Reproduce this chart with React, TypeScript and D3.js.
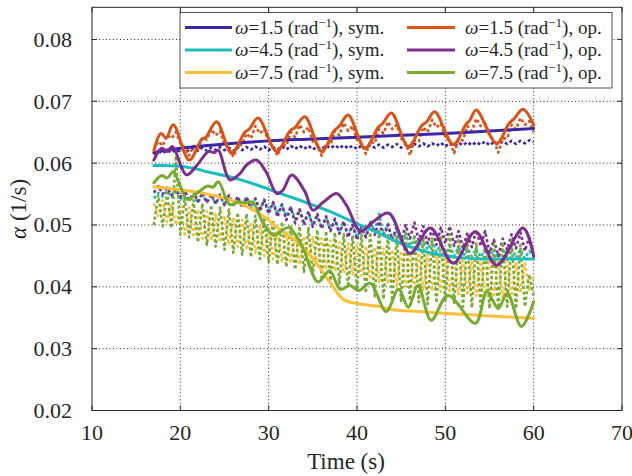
import React from 'react';
import * as d3 from 'd3';

// ---------- data ----------
const X_TICKS = [10, 20, 30, 40, 50, 60, 70];
const Y_TICKS = [0.02, 0.03, 0.04, 0.05, 0.06, 0.07, 0.08];

// sampling times of the simulated (dotted) series
const T_DOT = d3.range(17, 60.001, 0.5);

// ω=1.5 sym (solid)
const SYM15_T = [17, 18, 20, 22, 25, 30, 35, 40, 45, 50, 55, 60];
const SYM15_V = [0.0617, 0.062, 0.0624, 0.0627, 0.0631, 0.0636, 0.0639, 0.0642, 0.0645, 0.0648, 0.0652, 0.0656];

// ω=4.5 sym (solid)
const SYM45_T = [17, 20, 22, 23, 25.6, 28.6, 31.3, 33.9, 36.9, 40, 42.6, 45, 48, 51, 54, 57, 60];
const SYM45_V = [0.0596, 0.0595, 0.059, 0.0586, 0.0578, 0.0565, 0.0551, 0.0538, 0.0522, 0.0502, 0.0486, 0.047, 0.0456, 0.0448, 0.0445, 0.0445, 0.0445];

// ω=7.5 sym (solid)
const SYM75_T = [17, 20, 23.4, 25.6, 27.5, 29.4, 31.3, 33.2, 35.1, 37, 38.5, 40, 42.6, 44.1, 47, 50.1, 55, 60];
const SYM75_V = [0.0562, 0.0557, 0.0549, 0.0541, 0.053, 0.0514, 0.0492, 0.0473, 0.0444, 0.0406, 0.0379, 0.0373, 0.0368, 0.0363, 0.036, 0.0357, 0.0353, 0.0349];

// ω=1.5 op (solid)
const OP15_T = [17, 17.8, 18.4, 19.2, 21, 22.4, 22.9, 24.1, 25.8, 27.3, 27.8, 28.8, 30.9, 32.4, 33, 34.1, 36, 37.4, 38, 39, 40.9, 42.4, 42.9, 43.9, 45.8, 47.3, 47.9, 48.8, 50.9, 52.3, 52.8, 53.5, 55.8, 57.2, 57.8, 58.8, 60];
const OP15_V = [0.062, 0.0648, 0.0641, 0.0662, 0.0605, 0.0638, 0.0642, 0.0667, 0.0616, 0.065, 0.0655, 0.0673, 0.0619, 0.0652, 0.0658, 0.0675, 0.0619, 0.0652, 0.066, 0.0678, 0.0624, 0.0658, 0.0664, 0.0681, 0.0627, 0.066, 0.0667, 0.0683, 0.063, 0.0662, 0.067, 0.0686, 0.0632, 0.0664, 0.0672, 0.0687, 0.0662];

// ω=4.5 op (solid)
const OP45_T = [17, 17.9, 18.5, 19.1, 20.7, 21.9, 23.2, 23.8, 24.3, 25.6, 26.8, 27.5, 28.6, 29.7, 30.9, 31.6, 32.6, 34.1, 35, 36.2, 37.7, 38.8, 40.4, 41.8, 43.6, 46, 48.3, 50.9, 53.4, 55.8, 58.8, 60];
const OP45_V = [0.0605, 0.0624, 0.0619, 0.0627, 0.0581, 0.0597, 0.0619, 0.0617, 0.0621, 0.0573, 0.0584, 0.0597, 0.0605, 0.0586, 0.0551, 0.0556, 0.0581, 0.0554, 0.0524, 0.0537, 0.0551, 0.0532, 0.049, 0.0505, 0.0519, 0.0454, 0.0495, 0.0438, 0.0489, 0.0435, 0.0495, 0.0449];

// ω=7.5 op (solid)
const OP75_T = [17, 17.9, 18.5, 19.2, 19.8, 20.8, 22, 23.1, 23.7, 24.3, 25.6, 26.6, 27.5, 28.2, 29.3, 30.6, 31.4, 32.3, 33.8, 35.6, 36.9, 38.1, 39.2, 40.2, 41.5, 43.3, 44.7, 45.8, 46.9, 48.4, 50.3, 53.4, 54.7, 56, 57, 58.6, 60];
const OP75_V = [0.0568, 0.058, 0.0576, 0.0586, 0.057, 0.0541, 0.0553, 0.0563, 0.0561, 0.057, 0.0533, 0.0537, 0.0536, 0.0537, 0.0505, 0.0483, 0.049, 0.0496, 0.0465, 0.0408, 0.0426, 0.0396, 0.0402, 0.0394, 0.0406, 0.036, 0.0396, 0.0367, 0.0402, 0.0346, 0.0386, 0.0341, 0.0392, 0.0365, 0.039, 0.0336, 0.0376];

// dotted (simulated) series, sampled at T_DOT
const SYM15_DOT = [0.0614, 0.0619, 0.0616, 0.0621, 0.0617, 0.0622, 0.0618, 0.0623, 0.0619, 0.0624, 0.062, 0.0625, 0.062, 0.0625, 0.0621, 0.0626, 0.0621, 0.0625, 0.062, 0.0626, 0.0621, 0.0626, 0.0622, 0.0627, 0.0622, 0.0627, 0.0621, 0.0626, 0.0622, 0.0627, 0.0622, 0.0628, 0.0623, 0.0628, 0.0623, 0.0628, 0.0622, 0.0627, 0.0623, 0.0628, 0.0624, 0.0629, 0.0624, 0.0629, 0.0624, 0.0628, 0.0623, 0.0628, 0.0624, 0.0629, 0.0625, 0.063, 0.0625, 0.063, 0.0626, 0.0631, 0.0625, 0.063, 0.0626, 0.0631, 0.0627, 0.0632, 0.0627, 0.0632, 0.0628, 0.0633, 0.0627, 0.0632, 0.0628, 0.0633, 0.0629, 0.0634, 0.0629, 0.0634, 0.063, 0.0635, 0.0629, 0.0634, 0.063, 0.0635, 0.0631, 0.0636, 0.0631, 0.0636, 0.0632, 0.0637, 0.0634];
const OP15_DOT = [0.0622, 0.0635, 0.0628, 0.0645, 0.064, 0.065, 0.0632, 0.0625, 0.0612, 0.0628, 0.0622, 0.0642, 0.0638, 0.0655, 0.0645, 0.0652, 0.063, 0.0625, 0.061, 0.0628, 0.063, 0.0648, 0.064, 0.066, 0.0648, 0.0655, 0.0632, 0.0628, 0.0612, 0.063, 0.0628, 0.065, 0.0642, 0.0662, 0.065, 0.0658, 0.0635, 0.063, 0.0612, 0.0632, 0.063, 0.0652, 0.0645, 0.0665, 0.0652, 0.066, 0.0638, 0.0632, 0.0615, 0.0635, 0.0632, 0.0655, 0.0648, 0.0667, 0.0655, 0.0662, 0.064, 0.0632, 0.0613, 0.0636, 0.0635, 0.0658, 0.065, 0.067, 0.0658, 0.0664, 0.0642, 0.0635, 0.0616, 0.0638, 0.0637, 0.066, 0.0652, 0.0672, 0.066, 0.0665, 0.0645, 0.0636, 0.0617, 0.064, 0.064, 0.0662, 0.0655, 0.0673, 0.0662, 0.0668, 0.065];
const SYM45_DOT = [0.0543, 0.0552, 0.0546, 0.0555, 0.0545, 0.0553, 0.054, 0.055, 0.0538, 0.0548, 0.0536, 0.0549, 0.0537, 0.0547, 0.0535, 0.0546, 0.0533, 0.0545, 0.0532, 0.0544, 0.053, 0.0545, 0.0528, 0.0542, 0.0525, 0.054, 0.0522, 0.0537, 0.0518, 0.0533, 0.0514, 0.053, 0.051, 0.0525, 0.0505, 0.052, 0.05, 0.0515, 0.0495, 0.0512, 0.0492, 0.0508, 0.0488, 0.0505, 0.0484, 0.05, 0.048, 0.0496, 0.0482, 0.0505, 0.049, 0.0518, 0.0485, 0.0502, 0.0475, 0.049, 0.047, 0.0485, 0.0466, 0.048, 0.0463, 0.0478, 0.046, 0.0474, 0.0456, 0.047, 0.0452, 0.0466, 0.045, 0.0464, 0.0449, 0.0463, 0.0449, 0.0462, 0.0448, 0.0462, 0.0448, 0.0461, 0.0447, 0.0462, 0.0448, 0.0462, 0.0447, 0.046, 0.0446, 0.0458, 0.045];
const OP45_DOT = [0.0552, 0.0563, 0.055, 0.056, 0.0548, 0.0558, 0.0545, 0.0556, 0.054, 0.0553, 0.0538, 0.0552, 0.0536, 0.055, 0.0534, 0.0549, 0.0532, 0.0548, 0.053, 0.0546, 0.0528, 0.0545, 0.0526, 0.0543, 0.0522, 0.0541, 0.0518, 0.0537, 0.0513, 0.0533, 0.0508, 0.0528, 0.0503, 0.0525, 0.05, 0.0522, 0.0497, 0.0518, 0.0494, 0.0514, 0.049, 0.051, 0.0486, 0.0506, 0.048, 0.05, 0.0476, 0.0497, 0.048, 0.0502, 0.0484, 0.0506, 0.048, 0.05, 0.0476, 0.0498, 0.0474, 0.05, 0.0478, 0.0504, 0.0475, 0.0498, 0.047, 0.0494, 0.0468, 0.0496, 0.047, 0.0498, 0.0466, 0.049, 0.0462, 0.0488, 0.0464, 0.0492, 0.0466, 0.049, 0.0455, 0.0476, 0.045, 0.0478, 0.046, 0.0485, 0.0462, 0.0488, 0.0458, 0.048, 0.0455];
const SYM75_DOT = [0.0535, 0.0515, 0.054, 0.0505, 0.0535, 0.05, 0.053, 0.0485, 0.0528, 0.048, 0.0525, 0.0478, 0.0522, 0.0475, 0.0518, 0.0472, 0.0515, 0.0468, 0.0512, 0.0465, 0.0508, 0.046, 0.0505, 0.0455, 0.05, 0.045, 0.0496, 0.0445, 0.0492, 0.044, 0.0488, 0.0438, 0.0485, 0.0436, 0.0482, 0.0434, 0.048, 0.0432, 0.0478, 0.0428, 0.0475, 0.0425, 0.0472, 0.0422, 0.047, 0.042, 0.0468, 0.0418, 0.0466, 0.0412, 0.0464, 0.0408, 0.0462, 0.0405, 0.046, 0.0402, 0.0458, 0.04, 0.0456, 0.0398, 0.0455, 0.0395, 0.0453, 0.0393, 0.0452, 0.0392, 0.045, 0.039, 0.0448, 0.0388, 0.0447, 0.0386, 0.0446, 0.0385, 0.0445, 0.0384, 0.0444, 0.0383, 0.0443, 0.0382, 0.0442, 0.0385, 0.044, 0.039, 0.0438, 0.0395, 0.0417];
const OP75_DOT = [0.05, 0.0548, 0.0498, 0.0552, 0.0495, 0.0612, 0.0485, 0.0545, 0.048, 0.054, 0.0472, 0.0535, 0.0468, 0.0532, 0.0465, 0.0528, 0.046, 0.0525, 0.0455, 0.052, 0.0452, 0.0518, 0.0448, 0.0515, 0.0445, 0.0512, 0.044, 0.0508, 0.0436, 0.0505, 0.0432, 0.05, 0.0428, 0.0498, 0.0424, 0.0495, 0.042, 0.0492, 0.0415, 0.049, 0.041, 0.0488, 0.0405, 0.0485, 0.04, 0.0483, 0.0395, 0.0485, 0.039, 0.0488, 0.0385, 0.049, 0.038, 0.0486, 0.0378, 0.0482, 0.0375, 0.0488, 0.0378, 0.0485, 0.0375, 0.048, 0.0372, 0.0478, 0.0374, 0.0482, 0.0376, 0.0485, 0.0372, 0.0478, 0.0368, 0.0475, 0.0366, 0.0472, 0.0368, 0.047, 0.0365, 0.0468, 0.0366, 0.0472, 0.0368, 0.0475, 0.0365, 0.0468, 0.0368, 0.042, 0.0385];

const LEGEND_LABELS = ['ω=1.5', 'ω=4.5', 'ω=7.5'];
const C_SYM = ['#3e26a8', '#1dbdbd', '#fdbf38'];
const C_OP = ['#d95319', '#7e2f8e', '#77ac30'];

const FONT = '"Liberation Serif", "Times New Roman", serif';

export default function App() {
  const W = 632, H = 476;
  const L = 92, R = 622, T = 7.3, B = 410.5;
  const x = d3.scaleLinear().domain([10, 70]).range([L, R]);
  const y = d3.scaleLinear().domain([0.02, 0.0852]).range([B, T]);

  const smooth = d3.line<[number, number]>().x(d => x(d[0])).y(d => y(d[1])).curve(d3.curveCatmullRom.alpha(0.5));
  const straight = d3.line<[number, number]>().x(d => x(d[0])).y(d => y(d[1]));
  const zip = (ts: number[], vs: number[]) => ts.map((t, i) => [t, vs[i]] as [number, number]);

  const dotted = [
    { v: SYM15_DOT, c: C_SYM[0] },
    { v: OP15_DOT, c: C_OP[0] },
    { v: SYM45_DOT, c: C_SYM[1] },
    { v: OP45_DOT, c: C_OP[1] },
    { v: SYM75_DOT, c: C_SYM[2] },
    { v: OP75_DOT, c: C_OP[2] },
  ];
  const solid = [
    { t: SYM15_T, v: SYM15_V, c: C_SYM[0] },
    { t: SYM45_T, v: SYM45_V, c: C_SYM[1] },
    { t: SYM75_T, v: SYM75_V, c: C_SYM[2] },
    { t: OP15_T, v: OP15_V, c: C_OP[0] },
    { t: OP45_T, v: OP45_V, c: C_OP[1] },
    { t: OP75_T, v: OP75_V, c: C_OP[2] },
  ];

  const axisColor = '#262626';
  const legendRows = [27.5, 50, 72.5];

  return (
    <svg width={W} height={H} style={{ position: 'absolute', left: 0, top: 0, background: '#fff' }} fontFamily={FONT}>
      <rect x={0} y={0} width={W} height={H} fill="#fff" />
      {/* grid */}
      {X_TICKS.filter(t => t > 10 && t < 70).map(t => (
        <line key={'gx' + t} x1={x(t)} x2={x(t)} y1={T} y2={B} stroke={axisColor} strokeWidth={1} strokeDasharray="1,2.5" />
      ))}
      {Y_TICKS.filter(t => t > 0.02).map(t => (
        <line key={'gy' + t} x1={L} x2={R} y1={y(t)} y2={y(t)} stroke={axisColor} strokeWidth={1} strokeDasharray="1,2.5" />
      ))}
      {/* dotted series */}
      {dotted.map((s, i) => (
        <path key={'d' + i} d={straight(zip(T_DOT, s.v)) || ''} fill="none" stroke={s.c} strokeWidth={2.6} strokeDasharray="3,2.5" strokeLinejoin="round" />
      ))}
      {/* solid series */}
      {solid.map((s, i) => (
        <path key={'s' + i} d={smooth(zip(s.t, s.v)) || ''} fill="none" stroke={s.c} strokeWidth={3} strokeLinejoin="round" strokeLinecap="round" />
      ))}
      {/* axes box */}
      <rect x={L} y={T} width={R - L} height={B - T} fill="none" stroke={axisColor} strokeWidth={1} />
      {X_TICKS.map(t => (
        <g key={'tx' + t}>
          <line x1={x(t)} x2={x(t)} y1={B} y2={B - 5} stroke={axisColor} />
          <line x1={x(t)} x2={x(t)} y1={T} y2={T + 5} stroke={axisColor} />
          <text x={x(t)} y={439.5} fontSize={22} textAnchor="middle" fill="#262626">{t}</text>
        </g>
      ))}
      {Y_TICKS.map(t => (
        <g key={'ty' + t}>
          <line x1={L} x2={L + 5} y1={y(t)} y2={y(t)} stroke={axisColor} />
          <line x1={R} x2={R - 5} y1={y(t)} y2={y(t)} stroke={axisColor} />
          <text x={72} y={y(t) + 7.5} fontSize={22} textAnchor="end" fill="#262626">{t.toFixed(2)}</text>
        </g>
      ))}
      <text x={346} y={469} fontSize={23} textAnchor="middle" fill="#262626">Time (s)</text>
      <text transform={`translate(26, ${(T + B) / 2}) rotate(-90)`} fontSize={23} textAnchor="middle" fill="#262626">
        <tspan fontStyle="italic">α</tspan> (1/s)
      </text>
      {/* legend */}
      <rect x={180} y={12.5} width={432} height={75.5} fill="#fff" stroke={axisColor} strokeWidth={0.8} />
      {LEGEND_LABELS.map((lab, i) => (
        <g key={'lg' + i}>
          <line x1={185} x2={232} y1={legendRows[i]} y2={legendRows[i]} stroke={C_SYM[i]} strokeWidth={3} />
          <text x={235} y={legendRows[i] + 6} fontSize={19} fill="#262626">
            <tspan fontStyle="italic">ω</tspan>{lab.slice(1)} (rad<tspan fontSize={13} dy={-7}>−1</tspan><tspan dy={7}>), sym.</tspan>
          </text>
          <line x1={407} x2={455} y1={legendRows[i]} y2={legendRows[i]} stroke={C_OP[i]} strokeWidth={3} />
          <text x={465} y={legendRows[i] + 6} fontSize={19} fill="#262626">
            <tspan fontStyle="italic">ω</tspan>{lab.slice(1)} (rad<tspan fontSize={13} dy={-7}>−1</tspan><tspan dy={7}>), op.</tspan>
          </text>
        </g>
      ))}
    </svg>
  );
}
